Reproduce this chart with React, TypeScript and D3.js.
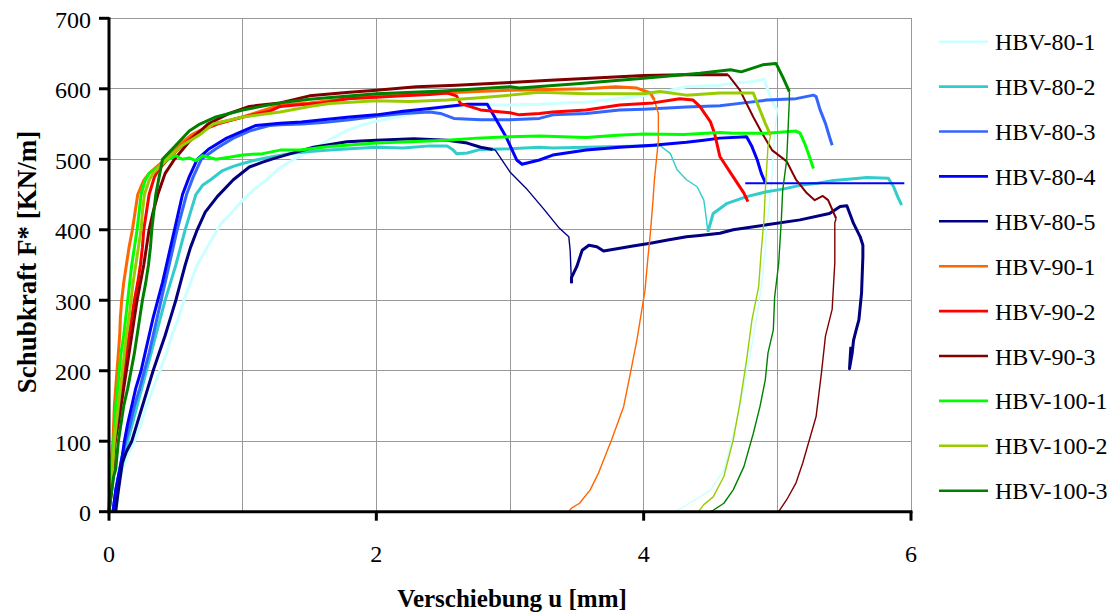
import React from 'react';
import * as d3 from 'd3';

type Pt = [number, number];

// ---------- axis ticks ----------
const xTickValues = [0, 2, 4, 6];
const xGridValues = [1, 2, 3, 4, 5, 6];
const yTickValues = [0, 100, 200, 300, 400, 500, 600, 700];

const xTitle = 'Verschiebung u [mm]';
const yTitle = 'Schubkraft F* [KN/m]';

// ---------- series ----------
const seriesNames = [
  'HBV-80-1', 'HBV-80-2', 'HBV-80-3', 'HBV-80-4', 'HBV-80-5',
  'HBV-90-1', 'HBV-90-2', 'HBV-90-3', 'HBV-100-1', 'HBV-100-2', 'HBV-100-3',
];
const seriesColors = [
  '#CCFFFF', '#33CCCC', '#3366FF', '#0000FF', '#000080',
  '#FF6600', '#FF0000', '#800000', '#00FF00', '#99CC00', '#008000',
];

// HBV-80-1
const hbv80_1Load: Pt[] = [[0.05,0],[0.07,30],[0.1,60],[0.14,80],[0.19,100],[0.24,125],[0.28,150],[0.33,175],[0.38,200],[0.43,225],[0.47,250],[0.52,275],[0.56,300],[0.61,325],[0.66,350],[0.72,370],[0.78,390],[0.84,409],[0.92,425],[1.0,442],[1.09,458],[1.18,471],[1.26,485],[1.33,494],[1.43,505],[1.53,515],[1.65,528],[1.78,541],[1.9,549],[2.0,554],[2.15,560],[2.28,565],[2.4,570],[2.53,574],[2.7,576],[2.85,577],[3.0,577],[3.22,578],[3.4,580],[3.57,581],[3.8,586],[4.07,592],[4.2,598],[4.32,603],[4.57,605],[4.67,608],[4.8,610],[4.87,612],[4.9,614],[4.93,598],[4.97,579],[5.0,570]];
const hbv80_1Unload: Pt[] = [[5.0,570],[4.98,537],[4.96,475],[4.93,418],[4.92,404],[4.91,371],[4.88,319],[4.83,258],[4.77,196],[4.71,140],[4.66,102],[4.6,59],[4.5,31],[4.42,21],[4.3,7],[4.25,2],[4.23,0],[4.19,0]];

// HBV-80-2
const hbv80_2Load: Pt[] = [[0.03,0],[0.05,25],[0.08,50],[0.11,75],[0.14,100],[0.175,125],[0.21,150],[0.245,175],[0.28,200],[0.315,225],[0.35,250],[0.385,275],[0.42,300],[0.46,325],[0.5,350],[0.535,375],[0.57,400],[0.61,425],[0.65,450],[0.7,463],[0.76,471],[0.85,484],[0.93,490],[1.0,494],[1.1,499],[1.23,504],[1.35,508],[1.5,511],[1.65,513],[1.8,515],[2.0,517],[2.2,516],[2.4,519],[2.53,519],[2.57,514],[2.6,508],[2.68,509],[2.78,514],[3.0,515],[3.22,517],[3.32,516],[3.57,517],[3.82,518],[4.0,519],[4.12,520]];
const hbv80_2Drop: Pt[] = [[4.12,520],[4.2,508],[4.25,485],[4.32,471],[4.4,461],[4.45,442],[4.47,414],[4.48,397]];
const hbv80_2Rest: Pt[] = [[4.48,397],[4.5,410],[4.52,423],[4.62,437],[4.77,447],[4.92,454],[5.05,458],[5.17,463],[5.3,466],[5.42,470],[5.55,472],[5.67,474],[5.83,473],[5.87,461],[5.9,447],[5.93,435]];

// HBV-80-3
const hbv80_3Load: Pt[] = [[0.03,0],[0.05,30],[0.08,60],[0.1,80],[0.125,100],[0.16,125],[0.19,150],[0.23,175],[0.265,200],[0.3,225],[0.33,250],[0.36,275],[0.39,300],[0.42,325],[0.45,350],[0.48,375],[0.51,400],[0.545,425],[0.58,450],[0.63,475],[0.69,500],[0.8,515],[0.93,530],[1.05,540],[1.2,548],[1.28,549],[1.44,550],[1.6,552],[1.8,556],[2.0,561],[2.2,565],[2.4,567],[2.48,565],[2.58,558],[2.78,556],[3.0,556],[3.22,558],[3.32,563],[3.57,565],[3.82,570],[4.0,571],[4.32,574],[4.57,576],[4.75,580],[4.92,584],[5.14,586],[5.27,591],[5.29,589],[5.32,570],[5.36,551],[5.39,532],[5.41,520]];

// HBV-80-4
const hbv80_4Load: Pt[] = [[0.03,0],[0.05,30],[0.08,60],[0.1,80],[0.115,100],[0.14,125],[0.17,150],[0.2,175],[0.24,200],[0.27,225],[0.3,250],[0.33,275],[0.365,300],[0.4,325],[0.43,350],[0.46,375],[0.49,400],[0.52,425],[0.55,450],[0.6,475],[0.66,500],[0.75,515],[0.88,530],[1.0,540],[1.1,548],[1.28,551],[1.44,553],[1.6,556],[1.8,560],[2.0,563],[2.2,568],[2.4,572],[2.53,575],[2.68,578],[2.83,578],[2.87,565],[2.97,532],[3.05,499],[3.09,493],[3.22,499],[3.32,506],[3.57,513],[3.82,517],[4.07,520],[4.32,524],[4.45,527],[4.57,530],[4.77,532],[4.81,518],[4.85,499],[4.88,480],[4.91,467]];
const hbv80_4Tail: Pt[] = [[4.76,466],[5.95,466]];

// HBV-80-5
const hbv80_5Load: Pt[] = [[0.05,0],[0.06,15],[0.07,30],[0.085,50],[0.1,70],[0.13,85],[0.17,100],[0.21,125],[0.25,150],[0.29,175],[0.33,200],[0.375,225],[0.42,250],[0.46,275],[0.5,300],[0.535,325],[0.57,350],[0.61,375],[0.66,400],[0.72,425],[0.81,447],[0.93,471],[1.05,489],[1.15,496],[1.23,501],[1.34,507],[1.53,517],[1.78,525],[2.0,527],[2.28,529],[2.53,527],[2.68,523],[2.78,517],[2.87,514]];
const hbv80_5Drop: Pt[] = [[2.87,514],[2.89,513],[3.0,482],[3.12,459],[3.25,430],[3.37,402],[3.44,390],[3.45,371],[3.46,324]];
const hbv80_5Rest: Pt[] = [[3.46,324],[3.46,332],[3.5,348],[3.54,371],[3.59,378],[3.65,376],[3.7,370],[3.8,373],[3.92,377],[4.05,381],[4.17,385],[4.32,390],[4.42,392],[4.57,395],[4.67,400],[4.92,407],[5.17,414],[5.39,423],[5.47,433],[5.52,434],[5.57,409],[5.62,390],[5.64,378],[5.64,362],[5.63,310],[5.61,272],[5.59,258],[5.57,243],[5.56,225],[5.54,203],[5.55,234]];

// HBV-90-1
const hbv90_1Load: Pt[] = [[0.0,0],[0.005,30],[0.01,60],[0.03,100],[0.04,150],[0.05,175],[0.06,200],[0.07,225],[0.08,250],[0.085,275],[0.095,300],[0.11,325],[0.13,350],[0.15,375],[0.175,400],[0.195,425],[0.215,450],[0.26,470],[0.3,480],[0.42,500],[0.52,520],[0.62,535],[0.7,543],[0.76,550],[0.9,555],[1.0,560],[1.1,566],[1.2,572],[1.28,577],[1.5,580],[1.75,585],[2.0,590],[2.2,592],[2.5,594],[2.75,596],[3.0,598],[3.3,599],[3.57,600],[3.79,603],[3.95,601],[4.05,594],[4.08,584]];
const hbv90_1Unload: Pt[] = [[4.08,584],[4.11,565],[4.11,527],[4.08,470],[4.07,442],[4.05,395],[4.03,357],[4.01,314],[3.95,244],[3.9,196],[3.85,149],[3.76,102],[3.66,54],[3.6,31],[3.52,12],[3.46,5],[3.44,0],[3.16,0]];

// HBV-90-2
const hbv90_2Load: Pt[] = [[0.0,0],[0.01,25],[0.02,50],[0.03,75],[0.045,100],[0.06,125],[0.08,150],[0.1,175],[0.115,200],[0.13,225],[0.15,250],[0.17,275],[0.19,300],[0.215,325],[0.235,350],[0.25,375],[0.26,400],[0.28,425],[0.3,450],[0.34,475],[0.37,485],[0.44,500],[0.55,520],[0.68,540],[0.81,550],[1.0,560],[1.2,568],[1.28,575],[1.4,577],[1.6,580],[1.78,586],[2.0,588],[2.2,590],[2.4,592],[2.53,594],[2.6,590],[2.63,579],[2.78,570],[3.0,566],[3.07,563],[3.22,565],[3.32,567],[3.57,570],[3.82,577],[4.07,580],[4.27,586],[4.37,584],[4.42,575],[4.5,553],[4.53,537],[4.57,504],[4.67,475],[4.75,452],[4.78,440]];

// HBV-90-3
const hbv90_3Load: Pt[] = [[0.0,0],[0.02,30],[0.03,50],[0.045,100],[0.07,125],[0.09,150],[0.11,175],[0.13,200],[0.15,225],[0.17,250],[0.19,275],[0.21,300],[0.235,325],[0.26,350],[0.28,375],[0.3,400],[0.33,425],[0.365,450],[0.42,480],[0.49,500],[0.6,525],[0.74,550],[0.9,565],[1.05,575],[1.28,580],[1.5,590],[1.8,595],[2.0,598],[2.3,603],[2.6,605],[3.0,609],[3.3,612],[3.6,615],[4.0,619],[4.3,620],[4.63,620]];
const hbv90_3Drop: Pt[] = [[4.63,620],[4.72,598],[4.82,560],[4.88,539],[4.96,513],[5.07,497],[5.14,471],[5.22,452],[5.28,442],[5.34,448],[5.38,442],[5.44,416]];
const hbv90_3Unload: Pt[] = [[5.44,416],[5.43,410],[5.43,353],[5.41,287],[5.36,249],[5.33,197],[5.29,135],[5.24,102],[5.19,69],[5.14,41],[5.07,17],[5.02,3],[5.01,0],[4.76,0]];

// HBV-100-1
const hbv100_1Load: Pt[] = [[0.0,0],[0.005,25],[0.01,50],[0.02,75],[0.035,100],[0.045,125],[0.05,150],[0.065,175],[0.077,200],[0.09,225],[0.11,250],[0.125,275],[0.14,300],[0.155,325],[0.17,350],[0.19,375],[0.21,400],[0.225,425],[0.24,450],[0.27,470],[0.3,480],[0.38,490],[0.44,500],[0.5,505],[0.55,500],[0.6,502],[0.65,498],[0.7,505],[0.8,500],[0.9,503],[1.0,506],[1.15,508],[1.28,513],[1.43,513],[1.65,518],[2.0,523],[2.25,525],[2.53,527],[2.75,530],[3.0,532],[3.22,533],[3.57,531],[3.8,534],[4.0,536],[4.3,535],[4.57,538],[4.67,537],[4.92,537],[5.14,540],[5.17,537],[5.21,520],[5.24,504],[5.27,487]];

// HBV-100-2
const hbv100_2Load: Pt[] = [[0.0,0],[0.005,20],[0.02,40],[0.04,100],[0.055,125],[0.07,150],[0.085,175],[0.1,200],[0.115,225],[0.13,250],[0.15,275],[0.165,300],[0.18,325],[0.2,350],[0.22,375],[0.24,400],[0.25,425],[0.265,450],[0.3,470],[0.33,480],[0.43,500],[0.55,520],[0.68,535],[0.78,550],[1.0,560],[1.28,567],[1.5,575],[1.65,579],[2.0,583],[2.25,582],[2.53,584],[2.75,587],[3.0,591],[3.22,595],[3.57,593],[4.0,593],[4.12,596],[4.32,591],[4.57,594],[4.82,594],[4.87,570],[4.91,551],[4.95,534]];
const hbv100_2Unload: Pt[] = [[4.95,534],[4.93,518],[4.91,456],[4.9,414],[4.88,371],[4.86,319],[4.81,272],[4.77,215],[4.72,154],[4.67,102],[4.6,50],[4.52,21],[4.45,10],[4.41,0],[3.97,0]];

// HBV-100-3
const hbv100_3Load: Pt[] = [[0.0,0],[0.01,15],[0.02,30],[0.035,50],[0.05,60],[0.07,100],[0.09,125],[0.11,150],[0.14,175],[0.165,200],[0.19,225],[0.21,250],[0.23,275],[0.25,300],[0.275,325],[0.295,350],[0.31,375],[0.32,400],[0.335,425],[0.35,450],[0.37,470],[0.38,480],[0.4,500],[0.5,520],[0.6,540],[0.68,550],[0.8,560],[1.0,570],[1.28,580],[1.5,585],[2.0,593],[2.5,597],[3.0,603],[3.07,601],[3.5,607],[4.0,615],[4.42,622],[4.65,627],[4.73,624],[4.89,634],[4.99,636],[5.04,617],[5.09,596]];
const hbv100_3Unload: Pt[] = [[5.09,596],[5.09,584],[5.07,499],[5.04,456],[5.03,414],[5.01,352],[4.98,305],[4.97,258],[4.93,225],[4.91,187],[4.87,149],[4.82,111],[4.75,64],[4.67,31],[4.6,12],[4.52,2],[4.5,0],[4.19,0]];

// ---------- layout ----------
const W = 1116;
const H = 616;
const PLOT_L = 109;
const PLOT_R = 911;
const PLOT_T = 18.3;
const PLOT_B = 511.7;
const THICK = 3;
const MEDIUM = 2;
const THIN = 1.4;
const FONT = '"Liberation Serif", "Times New Roman", Times, serif';

const x = d3.scaleLinear().domain([0, 6]).range([PLOT_L, PLOT_R]);
const y = d3.scaleLinear().domain([0, 700]).range([PLOT_B, PLOT_T]);
const line = d3.line<Pt>().x(d => x(d[0])).y(d => y(d[1]));

const segments: { s: number; data: Pt[]; w: number }[] = [
  { s: 0, data: hbv80_1Load, w: THICK },
  { s: 0, data: hbv80_1Unload, w: THIN },
  { s: 1, data: hbv80_2Load, w: THICK },
  { s: 1, data: hbv80_2Drop, w: THIN },
  { s: 1, data: hbv80_2Rest, w: THICK },
  { s: 2, data: hbv80_3Load, w: THICK },
  { s: 3, data: hbv80_4Load, w: THICK },
  { s: 3, data: hbv80_4Tail, w: MEDIUM },
  { s: 4, data: hbv80_5Load, w: THICK },
  { s: 4, data: hbv80_5Drop, w: THIN },
  { s: 4, data: hbv80_5Rest, w: THICK },
  { s: 5, data: hbv90_1Load, w: THICK },
  { s: 5, data: hbv90_1Unload, w: THIN },
  { s: 6, data: hbv90_2Load, w: THICK },
  { s: 7, data: hbv90_3Load, w: THICK },
  { s: 7, data: hbv90_3Drop, w: MEDIUM },
  { s: 7, data: hbv90_3Unload, w: THIN },
  { s: 8, data: hbv100_1Load, w: THICK },
  { s: 9, data: hbv100_2Load, w: THICK },
  { s: 9, data: hbv100_2Unload, w: THIN },
  { s: 10, data: hbv100_3Load, w: THICK },
  { s: 10, data: hbv100_3Unload, w: THIN },
];

export default function App() {
  return (
    <svg
      width={W}
      height={H}
      viewBox={`0 0 ${W} ${H}`}
      style={{ position: 'absolute', left: 0, top: 0, background: '#fff' }}
      fontFamily={FONT}
    >
      <rect x={0} y={0} width={W} height={H} fill="#fff" />
      {/* grid */}
      <g stroke="#999" strokeWidth={1} shapeRendering="crispEdges">
        {yTickValues.filter(v => v > 0).map(v => (
          <line key={`gy${v}`} x1={PLOT_L} x2={PLOT_R} y1={y(v)} y2={y(v)} />
        ))}
        {xGridValues.map(v => (
          <line key={`gx${v}`} x1={x(v)} x2={x(v)} y1={PLOT_T} y2={PLOT_B} />
        ))}
      </g>

      {/* series */}
      <g fill="none" strokeLinejoin="round" strokeLinecap="butt">
        {segments.map((seg, i) => (
          <path key={`seg${i}`} d={line(seg.data) || ''} stroke={seriesColors[seg.s]} strokeWidth={seg.w} />
        ))}
      </g>

      {/* axes */}
      <g stroke="#000" strokeWidth={3}>
        <line x1={PLOT_L} x2={PLOT_L} y1={PLOT_T - 1} y2={PLOT_B + 1.5} />
        <line x1={PLOT_L - 1.5} x2={PLOT_R + 1.5} y1={PLOT_B} y2={PLOT_B} />
        {yTickValues.map(v => (
          <line key={`ty${v}`} x1={PLOT_L - 10} x2={PLOT_L} y1={y(v)} y2={y(v)} />
        ))}
        {xTickValues.map(v => (
          <line key={`tx${v}`} x1={x(v)} x2={x(v)} y1={PLOT_B} y2={PLOT_B + 9} />
        ))}
      </g>

      {/* tick labels */}
      <g fontSize={24} fill="#000">
        {yTickValues.map(v => (
          <text key={`ly${v}`} x={91} y={y(v) + 9.5} textAnchor="end">{v}</text>
        ))}
        {xTickValues.map(v => (
          <text key={`lx${v}`} x={x(v)} y={562} textAnchor="middle">{v}</text>
        ))}
      </g>

      {/* axis titles */}
      <text x={512} y={607} textAnchor="middle" fontSize={25} fontWeight="bold">{xTitle}</text>
      <text transform="translate(36,262) rotate(-90)" textAnchor="middle" fontSize={27} fontWeight="bold">{yTitle}</text>

      {/* legend */}
      <g>
        {seriesNames.map((name, i) => {
          const cy = 41.7 + i * 44.9;
          return (
            <g key={name}>
              <line x1={939} x2={988} y1={cy} y2={cy} stroke={seriesColors[i]} strokeWidth={2.6} />
              <text x={995} y={cy + 8.5} fontSize={24} fill="#000">{name}</text>
            </g>
          );
        })}
      </g>
    </svg>
  );
}
